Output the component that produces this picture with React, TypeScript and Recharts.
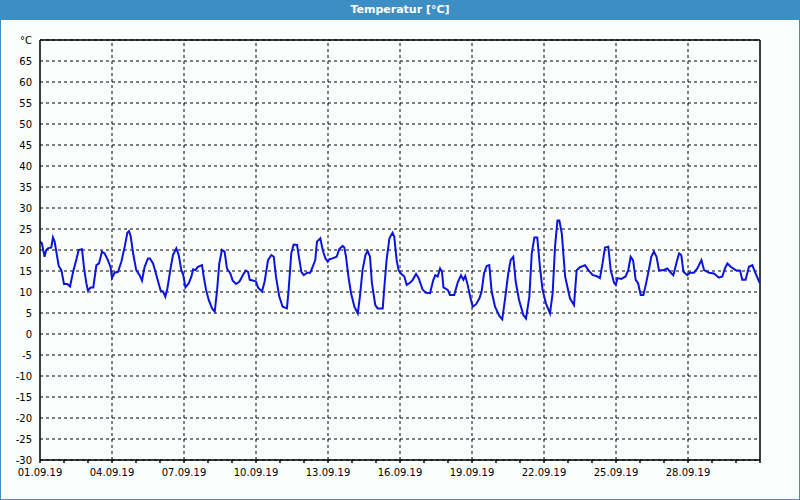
import React from 'react';
import {
  LineChart,
  Line,
  XAxis,
  YAxis,
  CartesianGrid,
  ReferenceLine
} from 'recharts';

// Time in days since 01.09.19 00:00
const days = [
  0, 0.08, 0.19, 0.26, 0.33, 0.47, 0.54, 0.61, 0.68, 0.78, 0.89,
  1.0, 1.14, 1.25, 1.38, 1.51, 1.61, 1.75, 1.83, 1.93,
  2.0, 2.11, 2.22, 2.35, 2.46, 2.58, 2.69, 2.83, 2.94,
  3.0, 3.11, 3.25, 3.39, 3.53, 3.64, 3.71, 3.78, 3.88,
  4.01, 4.15, 4.25, 4.36, 4.5, 4.58, 4.71, 4.81, 4.92,
  5.03, 5.13, 5.22, 5.31, 5.44, 5.54, 5.68, 5.78, 5.89, 5.97,
  6.06, 6.2, 6.31, 6.38, 6.47, 6.58, 6.75, 6.82, 6.92,
  7.03, 7.17, 7.28, 7.38, 7.47, 7.58, 7.69, 7.79, 7.93,
  8.03, 8.17, 8.31, 8.49, 8.58, 8.67, 8.74, 8.9,
  9.0, 9.08, 9.25, 9.36, 9.5, 9.64, 9.74, 9.83, 9.97,
  10.11, 10.29, 10.36, 10.47, 10.57, 10.71, 10.81, 10.89, 10.99,
  11.13, 11.26, 11.36, 11.47, 11.54, 11.68, 11.78, 11.89, 11.99,
  12.06, 12.19, 12.36, 12.47, 12.61, 12.68, 12.75, 12.85, 12.96,
  13.1, 13.24, 13.33, 13.44, 13.56, 13.65, 13.75, 13.83, 13.97,
  14.07, 14.28, 14.35, 14.44, 14.56, 14.69, 14.76, 14.86, 14.94,
  15.04, 15.18, 15.28, 15.42, 15.53, 15.67, 15.78, 15.94,
  16.08, 16.25, 16.39, 16.47, 16.57, 16.67, 16.75, 16.81, 16.99,
  17.08, 17.26, 17.4, 17.54, 17.64, 17.72, 17.82, 17.92,
  18.03, 18.17, 18.31, 18.4, 18.5, 18.61, 18.72, 18.82, 18.96,
  19.14, 19.26, 19.38, 19.51, 19.61, 19.72, 19.82, 19.96,
  20.14, 20.25, 20.39, 20.49, 20.6, 20.72, 20.83, 20.94,
  21.08, 21.25, 21.36, 21.46, 21.56, 21.64, 21.74, 21.88,
  22.08, 22.25, 22.36, 22.5, 22.71, 22.85,
  23.03, 23.19, 23.33, 23.44, 23.54, 23.68, 23.78, 23.92, 23.99,
  24.06, 24.22, 24.4, 24.51, 24.61, 24.71, 24.82, 24.92,
  25.03, 25.14, 25.24, 25.38, 25.47, 25.58, 25.69, 25.79, 25.97,
  26.14, 26.25, 26.39, 26.53, 26.63, 26.72, 26.81, 26.97,
  27.08, 27.25, 27.39, 27.56, 27.67, 27.88,
  28.08, 28.29, 28.43, 28.54, 28.64, 28.78, 28.99,
  29.17, 29.26, 29.4, 29.54, 29.68, 29.82, 29.96, 30
];

// Temperature in °C
const temps = [
  22.0, 21.6, 18.4, 20, 20.4, 20.6, 23, 22, 19.6, 16.2, 15.2,
  11.9, 11.9, 11.3, 14.8, 17.6, 20, 20.2, 16, 12.1,
  10.3, 11.1, 11.1, 16.4, 16.8, 19.6, 19.2, 17.6, 15.9,
  13.3, 14.6, 14.8, 17.2, 20.8, 24.1, 24.5, 23.2, 19.2,
  15.2, 14, 12.7, 16, 18, 18, 16.8, 14.8, 12.5,
  10.3, 10.1, 8.9, 10.9, 15.6, 18.8, 20.4, 18.8, 15.2, 14,
  11.1, 12.1, 13.7, 15.4, 15.2, 16, 16.4, 13.7, 10.5,
  8.1, 6.1, 5.3, 10.5, 16.8, 20, 19.6, 15.6, 14.4,
  12.7, 11.9, 12.5, 14.4, 15.1, 14.8, 12.9, 12.7,
  12.5, 11.1, 10.1, 12.5, 17.6, 18.8, 18.4, 13.7, 8.9,
  6.5, 6.1, 10.5, 19.2, 21.3, 21.2, 17.6, 14.8, 14,
  14.6, 14.6, 16, 17.6, 22, 22.8, 20, 18, 17.2,
  17.8, 18, 18.4, 20.2, 21, 20.6, 18.4, 13.7, 9.7,
  6.5, 4.9, 8.9, 15.2, 18.8, 19.8, 18.4, 12.1, 6.9,
  6.1, 6.1, 11.3, 17.6, 22.8, 24.1, 23.2, 17.6, 15.2,
  14.4, 13.7, 11.7, 12.2, 12.9, 14.3, 13.3, 10.6,
  9.8, 9.7, 12.9, 14, 13.7, 15.6, 14.8, 11.1, 10.5,
  9.3, 9.3, 12.2, 14, 12.9, 13.8, 11.7, 9.0,
  6.5, 7.1, 8.5, 10.1, 14.4, 16.2, 16.4, 10.1, 6.5,
  4.3, 3.5, 8.5, 14.4, 17.6, 18.4, 12.5, 8.1,
  4.5, 3.7, 8.9, 19.2, 23, 23, 16, 10.5,
  7.3, 4.9, 9.7, 20.8, 27, 27, 24, 13.7,
  8.5, 6.9, 15.2, 15.9, 16.4, 15.2,
  14, 13.8, 13.3, 16.8, 20.6, 20.8, 15.2, 12.2, 11.7,
  13.3, 13.1, 13.7, 15.2, 18.4, 17.6, 12.9, 12.1,
  9.3, 9.3, 11.7, 15.6, 18.4, 19.6, 18.4, 15.2, 15.2,
  15.6, 14.8, 14, 17.2, 19.2, 18.8, 14.8, 14,
  14.6, 14.6, 15.6, 17.6, 15.2, 14.6,
  14.4, 13.4, 13.7, 15.6, 16.8, 16, 15.2,
  15.1, 12.9, 12.9, 16, 16.4, 14.4, 12.5, 12.1
];

const yTicks = [-30, -25, -20, -15, -10, -5, 0, 5, 10, 15, 20, 25, 30, 35, 40, 45, 50, 55, 60, 65, 70];
const dayTicks = Array.from({ length: 31 }, (_, i) => i);
const gridDays = [3, 6, 9, 12, 15, 18, 21, 24, 27];

const data = days.map((d, i) => ({ t: d, temp: temps[i] }));

const formatDay = (d: number) => {
  if (d % 3 !== 0 || d >= 30) return '';
  const day = String(d + 1).padStart(2, '0');
  return `${day}.09.19`;
};

const FONT = '"DejaVu Sans", Verdana, sans-serif';
const BLUE = '#3d8fc3';

export default function App() {
  return (
    <div
      style={{
        position: 'absolute',
        left: 0,
        top: 0,
        width: 800,
        height: 500,
        boxSizing: 'border-box',
        border: `1px solid ${BLUE}`,
        borderTop: 'none',
        background: '#fcfefd',
        fontFamily: FONT
      }}
    >
      <div
        style={{
          height: 20,
          background: BLUE,
          color: '#fff',
          fontWeight: 'bold',
          fontSize: 11,
          lineHeight: '20px',
          textAlign: 'center',
          margin: '0 -1px'
        }}
      >
        Temperatur [°C]
      </div>
      <LineChart
        width={798}
        height={479}
        data={data}
        margin={{ top: 20, right: 39, bottom: 9, left: 0 }}
        style={{ fontFamily: FONT }}
      >
        <CartesianGrid vertical={false} stroke="#000" strokeDasharray="3 3" />
        {gridDays.map((d) => (
          <ReferenceLine key={d} x={d} stroke="#000" strokeDasharray="3 3" />
        ))}
        <ReferenceLine y={70} stroke="#000" strokeWidth={1.5} />
        <ReferenceLine x={30} stroke="#000" strokeWidth={1.5} />
        <XAxis
          dataKey="t"
          type="number"
          domain={[0, 30]}
          ticks={dayTicks}
          interval={0}
          tickFormatter={formatDay}
          tickSize={3}
          tickMargin={6}
          height={30}
          stroke="#000"
          strokeWidth={1.5}
          tick={{ fill: '#000', fontSize: 10 }}
        />
        <YAxis
          type="number"
          domain={[-30, 70]}
          ticks={yTicks}
          interval={0}
          tickFormatter={(v: number) => (v === 70 ? '°C' : String(v))}
          tickLine={false}
          width={39}
          stroke="#000"
          strokeWidth={1.5}
          tick={{ fill: '#000', fontSize: 10 }}
        />
        <Line
          type="linear"
          dataKey="temp"
          stroke="#0a14dc"
          strokeWidth={2}
          dot={false}
          isAnimationActive={false}
        />
      </LineChart>
    </div>
  );
}
